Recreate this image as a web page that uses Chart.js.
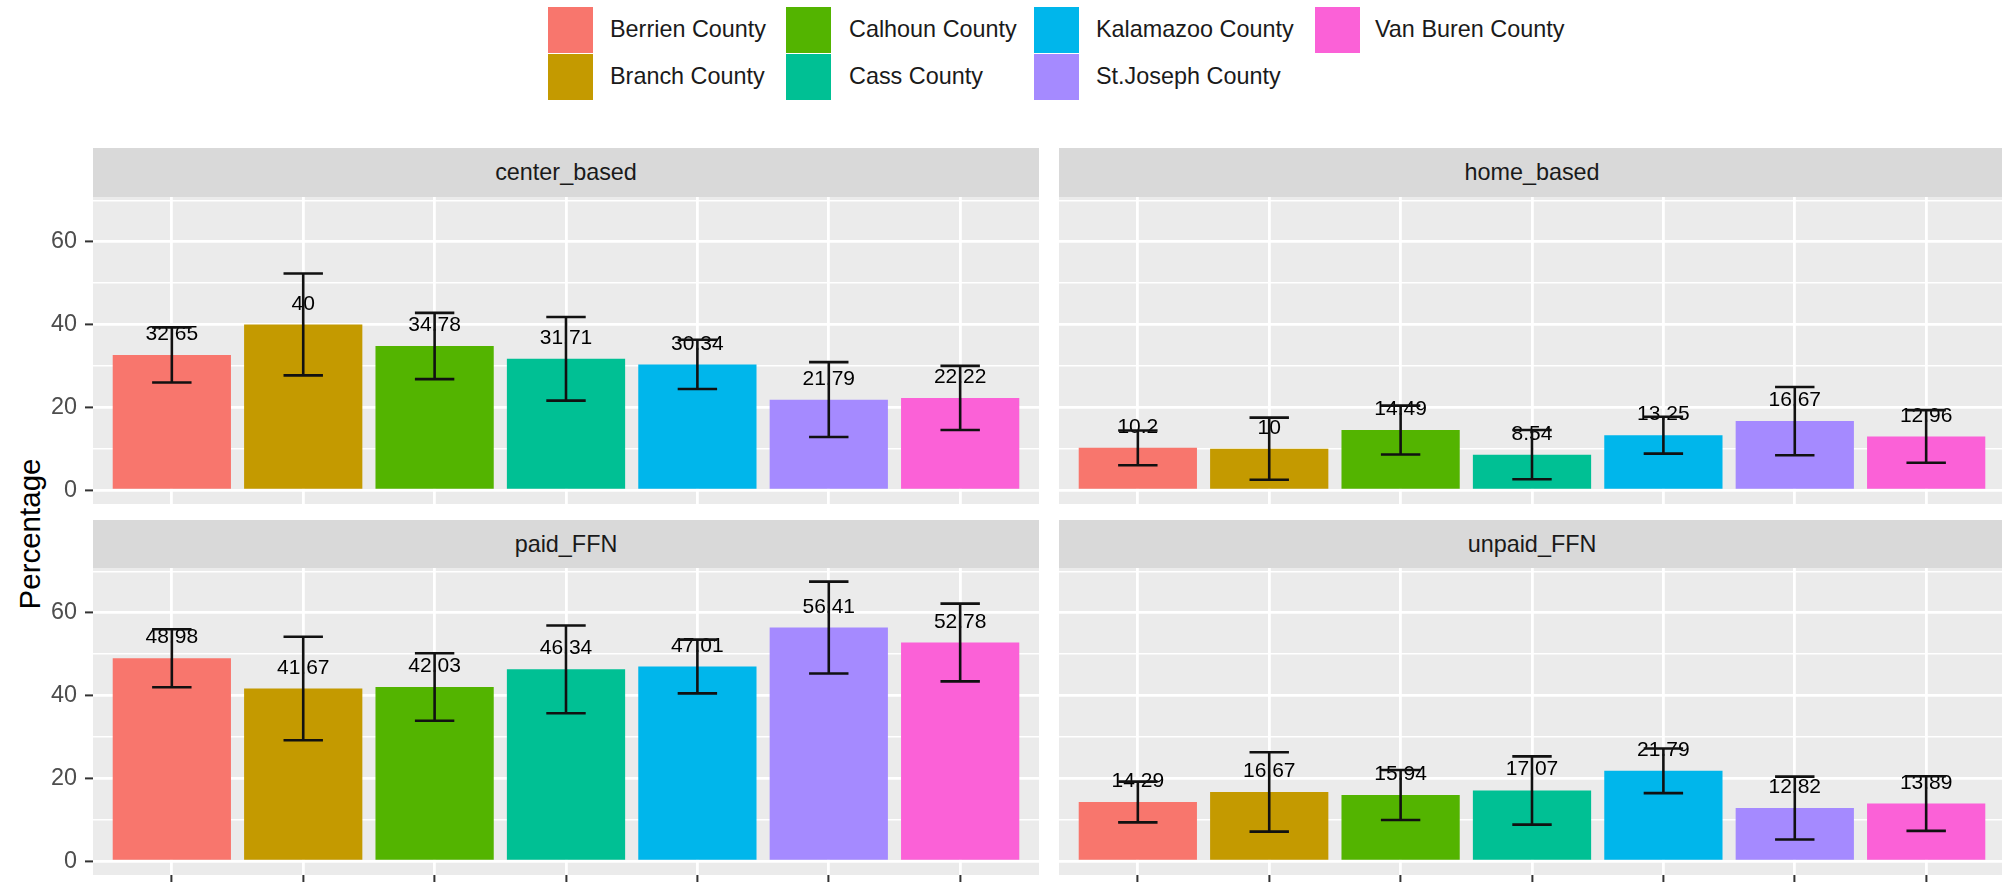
<!DOCTYPE html>
<html><head><meta charset="utf-8">
<script src="https://cdn.jsdelivr.net/npm/chart.js@4.4.1/dist/chart.umd.min.js"></script>
<style>
html,body{margin:0;padding:0;background:#fff;}
body{width:2002px;height:886px;position:relative;overflow:hidden;font-family:"Liberation Sans",Arial,sans-serif;}
.strip{position:absolute;background:#D9D9D9;color:#1A1A1A;font-size:23.4px;display:flex;align-items:center;justify-content:center;}
.key{position:absolute;width:45px;height:46px;}
.ltext{position:absolute;font-size:23.4px;color:#1A1A1A;line-height:1;transform:translateY(-50%);white-space:nowrap;}
.ytitle{position:absolute;font-size:29.5px;color:#000;white-space:nowrap;transform:translate(-50%,-50%) rotate(-90deg);}
canvas{position:absolute;}
</style></head><body>
<div id="legend"></div>
<div class="ytitle" style="left:30px;top:534px;">Percentage</div>
<div class="strip" style="left:93px;top:148px;width:946px;height:49px;">center_based</div>
<div class="strip" style="left:1059px;top:148px;width:946px;height:49px;">home_based</div>
<div class="strip" style="left:93px;top:520px;width:946px;height:48px;">paid_FFN</div>
<div class="strip" style="left:1059px;top:520px;width:946px;height:48px;">unpaid_FFN</div>
<canvas id="c1" width="1039" height="307" style="left:0px;top:197px;"></canvas>
<canvas id="c2" width="946" height="307" style="left:1059px;top:197px;"></canvas>
<canvas id="c3" width="1039" height="319" style="left:0px;top:568px;"></canvas>
<canvas id="c4" width="946" height="319" style="left:1059px;top:568px;"></canvas>
<script>
const categories = ["Berrien County","Branch County","Calhoun County","Cass County","Kalamazoo County","St.Joseph County","Van Buren County"];
const colors = ["#F8766D","#C49A00","#53B400","#00C094","#00B6EB","#A58AFF","#FB61D7"];

const centerBased      = [32.65, 40, 34.78, 31.71, 30.34, 21.79, 22.22];
const centerBasedLower = [26.0, 27.7, 26.8, 21.6, 24.4, 12.8, 14.5];
const centerBasedUpper = [39.3, 52.3, 42.8, 41.8, 36.3, 30.9, 30.0];

const homeBased      = [10.2, 10, 14.49, 8.54, 13.25, 16.67, 12.96];
const homeBasedLower = [6.0, 2.5, 8.6, 2.6, 8.8, 8.4, 6.6];
const homeBasedUpper = [14.4, 17.5, 20.4, 14.5, 17.7, 24.9, 19.3];

const paidFFN      = [48.98, 41.67, 42.03, 46.34, 47.01, 56.41, 52.78];
const paidFFNLower = [42.0, 29.2, 33.9, 35.7, 40.5, 45.3, 43.4];
const paidFFNUpper = [56.0, 54.2, 50.2, 56.9, 53.5, 67.5, 62.2];

const unpaidFFN      = [14.29, 16.67, 15.94, 17.07, 21.79, 12.82, 13.89];
const unpaidFFNLower = [9.35, 7.1, 9.9, 8.8, 16.4, 5.2, 7.3];
const unpaidFFNUpper = [19.2, 26.3, 22.0, 25.3, 27.2, 20.4, 20.5];

const yTickLabels = [0, 20, 40, 60];
const labelOffset = 5;

// legend (column-major, 2 rows)
const legend = document.getElementById('legend');
const keyX = [548, 786, 1034, 1315], labelX = [610, 849, 1096, 1375], rowY = [7, 54];
categories.forEach((c, i) => {
  const col = Math.floor(i / 2), row = i % 2;
  const k = document.createElement('div');
  k.className = 'key';
  k.style.left = keyX[col] + 'px'; k.style.top = rowY[row] + 'px'; k.style.background = colors[i];
  legend.appendChild(k);
  const t = document.createElement('div');
  t.className = 'ltext';
  t.style.left = labelX[col] + 'px'; t.style.top = (rowY[row] + 23) + 'px';
  t.textContent = c;
  legend.appendChild(t);
});

const panelBg = {
  id: 'panelBg',
  beforeDraw(chart) {
    const {ctx, chartArea: a} = chart;
    ctx.save(); ctx.fillStyle = '#EBEBEB';
    ctx.fillRect(a.left, a.top, a.right - a.left, a.bottom - a.top);
    ctx.restore();
  }
};
const errbars = {
  id: 'errbars',
  afterDatasetsDraw(chart, args, opts) {
    const {ctx} = chart, xs = chart.scales.x, ys = chart.scales.y;
    const vals = chart.data.datasets[0].data;
    ctx.save();
    ctx.font = '21px "Liberation Sans", Arial, sans-serif';
    ctx.fillStyle = '#000'; ctx.textAlign = 'center'; ctx.textBaseline = 'middle';
    vals.forEach(p => {
      ctx.fillText(String(p.y), xs.getPixelForValue(p.x), ys.getPixelForValue(p.y + labelOffset));
    });
    ctx.strokeStyle = '#111'; ctx.lineWidth = 2.6;
    vals.forEach((p, i) => {
      const x = xs.getPixelForValue(p.x);
      const x0 = xs.getPixelForValue(p.x - 0.15), x1 = xs.getPixelForValue(p.x + 0.15);
      const yl = ys.getPixelForValue(opts.lower[i]), yu = ys.getPixelForValue(opts.upper[i]);
      ctx.beginPath();
      ctx.moveTo(x, yl); ctx.lineTo(x, yu);
      ctx.moveTo(x0, yl); ctx.lineTo(x1, yl);
      ctx.moveTo(x0, yu); ctx.lineTo(x1, yu);
      ctx.stroke();
    });
    ctx.restore();
  }
};

const isMajor = v => yTickLabels.includes(Math.round(v));

function makeChart(id, vals, lower, upper, showY, showX) {
  return new Chart(document.getElementById(id), {
    type: 'bar',
    data: {
      labels: categories,
      datasets: [{
        data: vals.map((v, i) => ({x: i, y: v})),
        backgroundColor: colors, borderWidth: 0,
        barPercentage: 0.9, categoryPercentage: 1
      }]
    },
    options: {
      responsive: false, animation: false, devicePixelRatio: 1,
      layout: {padding: 0},
      plugins: {legend: {display: false}, tooltip: {enabled: false}, errbars: {lower, upper}},
      scales: {
        x: {
          type: 'linear', min: -0.6, max: 6.6, offset: false,
          ticks: {stepSize: 1, includeBounds: false, display: showX, autoSkip: false, callback: () => ''},
          grid: {color: '#FFFFFF', lineWidth: 2.8, offset: false, drawTicks: showX, tickLength: 7, tickColor: '#333333', tickWidth: 2},
          border: {display: false},
          afterFit: s => { s.height = showX ? 12 : 0; s.paddingLeft = 0; s.paddingRight = 0; }
        },
        y: {
          type: 'linear', min: -3.37, max: 70.8,
          ticks: {stepSize: 10, includeBounds: false, display: showY, autoSkip: false, padding: 8,
                  color: '#4D4D4D', font: {family: '"Liberation Sans", Arial, sans-serif', size: 23.4},
                  callback: v => isMajor(v) ? String(Math.round(v)) : ''},
          grid: {color: '#FFFFFF', lineWidth: c => isMajor(c.tick.value) ? 2.8 : 1.4,
                 drawTicks: showY, tickLength: 8,
                 tickColor: c => isMajor(c.tick.value) ? '#333333' : 'rgba(0,0,0,0)', tickWidth: 2},
          border: {display: false},
          afterFit: s => { s.width = showY ? 93 : 0; s.paddingTop = 0; s.paddingBottom = 0; }
        }
      }
    },
    plugins: [panelBg, errbars]
  });
}

makeChart('c1', centerBased, centerBasedLower, centerBasedUpper, true, false);
makeChart('c2', homeBased, homeBasedLower, homeBasedUpper, false, false);
makeChart('c3', paidFFN, paidFFNLower, paidFFNUpper, true, true);
makeChart('c4', unpaidFFN, unpaidFFNLower, unpaidFFNUpper, false, true);
</script>
</body></html>
